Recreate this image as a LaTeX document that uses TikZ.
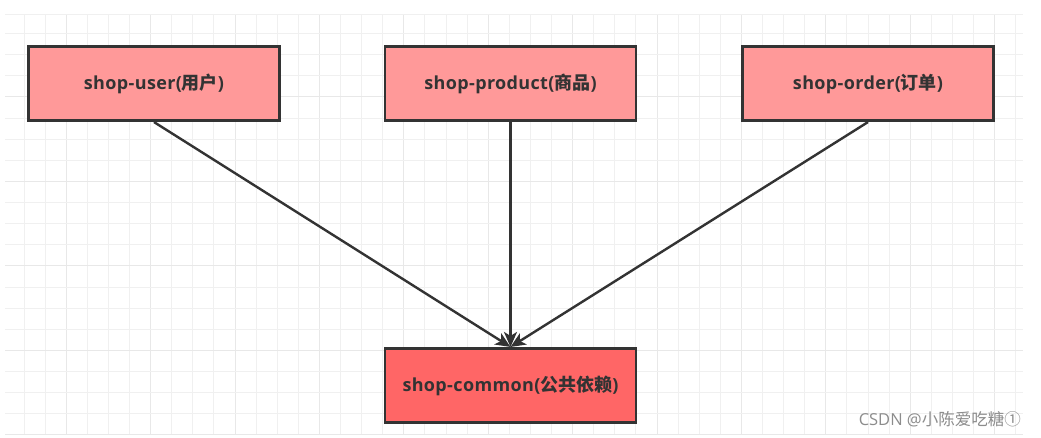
\documentclass[tikz,border=0pt]{standalone}
\usepackage{fontspec}
\setmainfont{Open Sans}
\newfontfamily\cjk{Noto Sans CJK SC}
\usetikzlibrary{arrows.meta}
\definecolor{gridminor}{HTML}{F0F0F0}
\definecolor{gridmajor}{HTML}{E8E8E8}
\definecolor{lightred}{HTML}{FF9999}
\definecolor{darkred}{HTML}{FF6666}
\definecolor{ink}{HTML}{333333}
\definecolor{mark}{HTML}{8C8C8C}
\tikzset{
  module/.style={draw=ink, line width=2.6pt, fill=lightred, minimum width=251pt, minimum height=74.5pt, inner sep=0pt, font=\fontsize{18}{21}\selectfont\bfseries\addfontfeature{LetterSpace=2}, text=ink},
  common/.style={module, fill=darkred},
  dep/.style={draw=ink, line width=2.4pt, -{Stealth[length=15pt,width=13pt,inset=4pt]}},
  minorline/.style={draw=gridminor, line width=1pt},
  majorline/.style={draw=gridmajor, line width=1pt}
}
\begin{document}
\begin{tikzpicture}[x=1pt,y=-1pt]
\useasboundingbox (0,0) rectangle (1041,438);
\fill[white] (0,0) rectangle (1041,438);
% grid
\foreach \k in {0,...,47} {
  \pgfmathsetmacro{\xx}{24+21.1*\k}
  \pgfmathtruncatemacro{\m}{mod(\k,4)}
  \ifnum\m=2
    \draw[majorline] (\xx,15) -- (\xx,435);
  \else
    \draw[minorline] (\xx,15) -- (\xx,435);
  \fi
}
\foreach \k in {0,...,19} {
  \pgfmathsetmacro{\yy}{33.5+21.13*\k}
  \pgfmathtruncatemacro{\m}{mod(\k,4)}
  \ifnum\m=3
    \draw[majorline] (5,\yy) -- (1023,\yy);
  \else
    \draw[minorline] (5,\yy) -- (1023,\yy);
  \fi
}
\draw[minorline] (5,15) -- (1023,15);
% nodes
\node[module] (user) at (154,83.5) {shop-user({\cjk 用户})};
\node[module] (product) at (510.5,83.5) {shop-product({\cjk 商品})};
\node[module] (order) at (868,83.5) {shop-order({\cjk 订单})};
\node[common] (common) at (510.5,385.5) {shop-common({\cjk 公共依赖})};
% connectors
\draw[dep] (user.south) -- (common.north);
\draw[dep] (product.south) -- (common.north);
\draw[dep] (order.south) -- (common.north);
% watermark
\node[text=mark, font=\fontsize{16.5}{19}\selectfont, anchor=base east, inner sep=0pt] (wm) at (1021,425) {CSDN @{\cjk 小陈爱吃糖①}};
\end{tikzpicture}
\end{document}
